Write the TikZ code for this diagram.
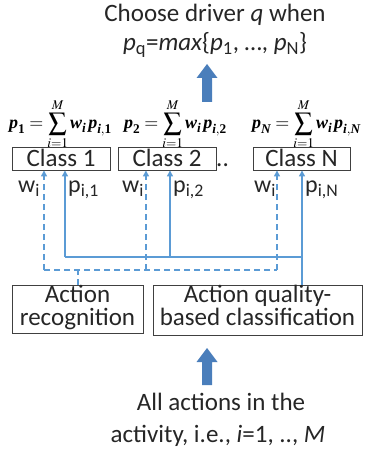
\documentclass[tikz,border=0pt]{standalone}
\usepackage{amsmath}
\usepackage{mathptmx}
\usepackage[no-math]{fontspec}
\setmainfont{Carlito}
\newfontfamily\tnr{Liberation Serif}
\usetikzlibrary{arrows.meta}
\newcommand\bi[1]{\text{\tnr\bfseries\itshape #1}}
\newcommand\bu[1]{\text{\tnr\bfseries #1}}
\definecolor{linkblue}{HTML}{5B9BD5}
\definecolor{bigblue}{HTML}{4A7EBB}
\definecolor{boxgray}{HTML}{404040}
\begin{document}
\begin{tikzpicture}[x=1pt,y=-1pt,
  txt/.style={inner sep=0pt,font=\fontsize{25}{30}\selectfont,text=black!85},
  lbl/.style={inner sep=0pt,font=\fontsize{24}{28}\selectfont,text=black!85},
  frm/.style={inner sep=0pt,font=\fontsize{18}{20}\selectfont},
  box/.style={draw=boxgray,line width=0.9pt,inner sep=0pt,minimum height=23pt},
  bbox/.style={draw=boxgray,line width=0.9pt,inner sep=0pt},
  solidlink/.style={draw=linkblue,line width=1.3pt},
  dashlink/.style={draw=linkblue,line width=1.3pt,dash pattern=on 6pt off 4pt},
  tip/.style={-{Triangle[length=6pt,width=6pt]}},
  fatarrow/.style={fill=bigblue,draw=none}
]
\useasboundingbox (0,0) rectangle (365,454);

% title
\node[txt,anchor=base] (t1) at (215,22) {Choose driver \textit{q} when};
\node[txt,anchor=base] (t2) at (215,51) {\textit{p}\textsubscript{q}=\textit{max}\{\textit{p}\textsubscript{1}, \dots, \textit{p}\textsubscript{N}\}};

% top arrow
\coordinate (ta) at (207,64);
\fill[fatarrow] (ta) -- ++(10.5,14) -- ++(-5.5,0) -- ++(0,24) -- ++(-10,0) -- ++(0,-24) -- ++(-5.5,0) -- cycle;

% formulas
\node[frm,anchor=base west] (f1) at (9,129) {$\bi{p}_{\bu{1}}=\displaystyle\sum_{i=1}^{M}\bi{w}_{\bi{i}}\,\bi{p}_{\bi{i},\bu{1}}$};
\node[frm,anchor=base west] (f2) at (124,129) {$\bi{p}_{\bu{2}}=\displaystyle\sum_{i=1}^{M}\bi{w}_{\bi{i}}\,\bi{p}_{\bi{i},\bu{2}}$};
\node[frm,anchor=base west] (fN) at (252,129) {$\bi{p}_{\bi{N}}=\displaystyle\sum_{i=1}^{M}\bi{w}_{\bi{i}}\,\bi{p}_{\bi{i},\bi{N}}$};

% class boxes
\node[box,fill=white,minimum width=98pt] (c1) at (61,158.5) {};
\node[box,fill=white,minimum width=98pt] (c2) at (167,158.5) {};
\node[box,fill=white,minimum width=97pt] (cN) at (301.5,158.5) {};
\node[txt,anchor=base] (c1t) at (61,166.5) {Class 1};
\node[txt,anchor=base] (c2t) at (167,166.5) {Class 2};
\node[txt,anchor=base west] (dots) at (216,166.5) {..};
\node[txt,anchor=base] (cNt) at (301.5,166.5) {Class N};

% bottom boxes
\node[bbox,minimum width=131pt,minimum height=48pt] (ar) at (77.5,309) {};
\node[bbox,minimum width=209pt,minimum height=50pt] (aq) at (257.5,310) {};
\node[txt,anchor=base] (ar1) at (77.5,302) {Action};
\node[txt,anchor=base] (ar2) at (77.5,325) {recognition};
\node[txt,anchor=base] (aq1) at (257.5,302) {Action quality-};
\node[txt,anchor=base] (aq2) at (257.5,325) {based classification};

% labels
\node[lbl,anchor=base] (w1) at (29,193) {w\textsubscript{i}};
\node[lbl,anchor=base west] (p1) at (68,193) {p\textsubscript{i,1}};
\node[lbl,anchor=base] (w2) at (133,193) {w\textsubscript{i}};
\node[lbl,anchor=base west] (p2) at (173,193) {p\textsubscript{i,2}};
\node[lbl,anchor=base] (wN) at (265,193) {w\textsubscript{i}};
\node[lbl,anchor=base west] (pN) at (305,193) {p\textsubscript{i,N}};

% solid links
\coordinate (sh1) at (65,257);
\coordinate (sh2) at (170,257);
\coordinate (shN) at (302,257);
\draw[solidlink] (sh1) -- (shN);
\draw[solidlink,tip] (aq.north -| shN) -- (cN.south -| shN);
\draw[solidlink,tip] (sh1) -- (c1.south -| sh1);
\draw[solidlink,tip] (sh2) -- (c2.south -| sh2);

% dashed links
\coordinate (dh1) at (44,270);
\coordinate (dh2) at (146,270);
\coordinate (dhN) at (277,270);
\coordinate (dr) at (78,270);
\draw[dashlink] (ar.north -| dr) -- (dr);
\draw[dashlink] (dh1) -- (dhN);
\draw[dashlink,tip] (dh1) -- (c1.south -| dh1);
\draw[dashlink,tip] (dh2) -- (c2.south -| dh2);
\draw[dashlink,tip] (dhN) -- (cN.south -| dhN);

% bottom arrow
\coordinate (ba) at (207,348);
\fill[fatarrow] (ba) -- ++(10.5,14) -- ++(-5.5,0) -- ++(0,23) -- ++(-10,0) -- ++(0,-23) -- ++(-5.5,0) -- cycle;

% bottom text
\node[txt,anchor=base] (b1) at (221,410) {All actions in the};
\node[txt,anchor=base] (b2) at (218,442) {activity, i.e., \textit{i}=1, .., \textit{M}};
\end{tikzpicture}
\end{document}
